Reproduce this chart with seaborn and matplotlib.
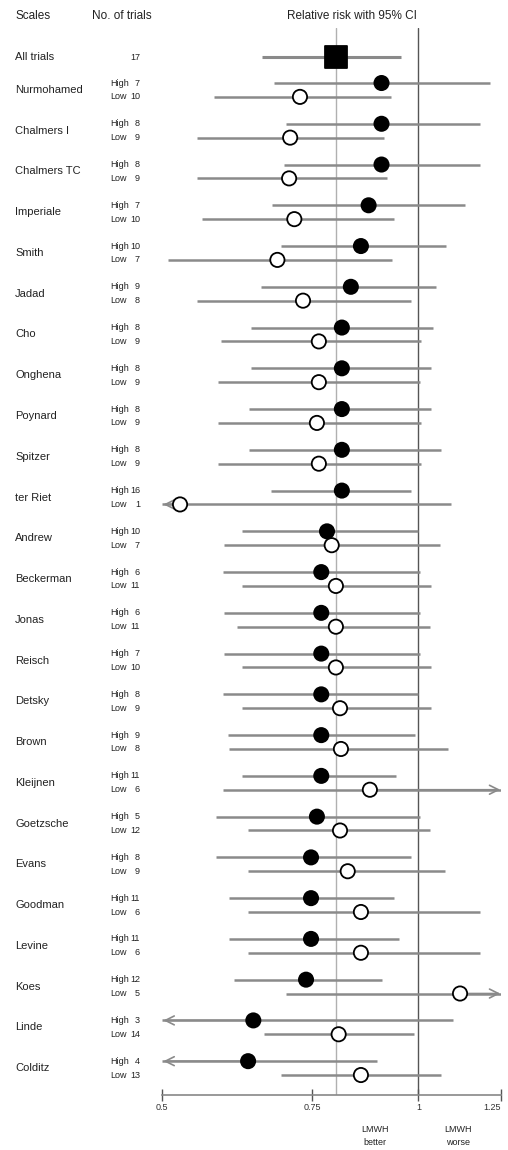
import numpy as np
import pandas as pd
import seaborn as sns
import matplotlib
matplotlib.use("Agg")
import matplotlib.pyplot as plt
from matplotlib.transforms import blended_transform_factory
from matplotlib.ticker import FixedLocator, FixedFormatter, NullLocator

# ---------------- data ----------------
scales = ["Nurmohamed", "Chalmers I", "Chalmers TC", "Imperiale", "Smith", "Jadad",
          "Cho", "Onghena", "Poynard", "Spitzer", "ter Riet", "Andrew", "Beckerman",
          "Jonas", "Reisch", "Detsky", "Brown", "Kleijnen", "Goetzsche", "Evans",
          "Goodman", "Levine", "Koes", "Linde", "Colditz"]
n_high = [7, 8, 8, 7, 10, 9, 8, 8, 8, 8, 16, 10, 6, 6, 7, 8, 9, 11, 5, 8, 11, 11, 12, 3, 4]
n_low = [10, 9, 9, 10, 7, 8, 9, 9, 9, 9, 1, 7, 11, 11, 10, 9, 8, 6, 12, 9, 6, 6, 5, 14, 13]

high_rr = [0.905, 0.905, 0.905, 0.874, 0.856, 0.833, 0.813, 0.813, 0.813, 0.813, 0.813,
           0.781, 0.769, 0.769, 0.769, 0.769, 0.769, 0.769, 0.760, 0.748, 0.748, 0.748,
           0.738, 0.640, 0.631]
high_lo = [0.677, 0.699, 0.696, 0.674, 0.690, 0.654, 0.636, 0.636, 0.633, 0.633, 0.672,
           0.621, 0.589, 0.592, 0.592, 0.589, 0.597, 0.621, 0.579, 0.579, 0.600, 0.600,
           0.608, 0.40, 0.40]
high_hi = [1.213, 1.181, 1.181, 1.135, 1.078, 1.050, 1.041, 1.035, 1.035, 1.064, 0.981,
           1.000, 1.005, 1.005, 1.005, 1.000, 0.992, 0.940, 1.005, 0.979, 0.935, 0.948,
           0.905, 1.099, 0.893]

low_rr = [0.726, 0.707, 0.705, 0.715, 0.683, 0.732, 0.764, 0.764, 0.760, 0.764, 0.525,
          0.791, 0.800, 0.800, 0.800, 0.809, 0.811, 0.877, 0.809, 0.826, 0.856, 0.856,
          1.119, 0.806, 0.856]
low_lo = [0.576, 0.549, 0.549, 0.557, 0.508, 0.549, 0.587, 0.581, 0.581, 0.581, 0.40,
          0.592, 0.620, 0.613, 0.621, 0.621, 0.600, 0.589, 0.630, 0.630, 0.630, 0.630,
          0.699, 0.659, 0.690]
low_hi = [0.928, 0.910, 0.918, 0.935, 0.930, 0.981, 1.008, 1.005, 1.008, 1.008, 1.093,
          1.061, 1.035, 1.033, 1.035, 1.035, 1.084, 1.40, 1.033, 1.075, 1.181, 1.181,
          1.40, 0.987, 1.064]

all_label = "All trials"
all_n = 17
all_rr = 0.80
all_lo = 0.656
all_hi = 0.953

tick_vals = [0.5, 0.75, 1, 1.25]
tick_labels = ["0.5", "0.75", "1", "1.25"]

# ---------------- build table ----------------
rows = []
for i, s in enumerate(scales):
    rows.append(dict(scale=s, group="High", n=n_high[i], rr=high_rr[i], lo=high_lo[i],
                     hi=high_hi[i], y=i + 1 - 0.17))
    rows.append(dict(scale=s, group="Low", n=n_low[i], rr=low_rr[i], lo=low_lo[i],
                     hi=low_hi[i], y=i + 1 + 0.17))
df = pd.DataFrame(rows)
y_all = 0.2

# ---------------- figure ----------------
sns.set_theme(style="white")
plt.rcParams["font.family"] = ["Liberation Sans", "DejaVu Sans"]

W, H = 508, 1150
fig = plt.figure(figsize=(W / 100, H / 100), dpi=100)
ax = fig.add_axes([162 / W, 1 - 1095 / H, 339 / W, (1095 - 28) / H])

XMIN, XMAX = 0.5, 1.25
ci_col = "#8a8a8a"

ax.axvline(1, color="#555555", lw=1.0, zorder=0)
ax.axvline(all_rr, color="#b0b0b0", lw=1.0, zorder=0)

# CI lines
ax.hlines(df["y"], df["lo"].clip(XMIN, XMAX), df["hi"].clip(XMIN, XMAX),
          color=ci_col, lw=1.8, zorder=1)
ax.hlines([y_all], [all_lo], [all_hi], color=ci_col, lw=2.2, zorder=1)

# arrows for clipped intervals
for _, r in df.iterrows():
    if r["lo"] < XMIN:
        ax.annotate("", xy=(XMIN * 1.004, r["y"]), xytext=(r["rr"], r["y"]),
                    arrowprops=dict(arrowstyle="->", color=ci_col, lw=1.2,
                                    mutation_scale=16, shrinkA=0, shrinkB=0), zorder=1)
    if r["hi"] > XMAX:
        ax.annotate("", xy=(XMAX * 0.998, r["y"]), xytext=(r["rr"], r["y"]),
                    arrowprops=dict(arrowstyle="->", color=ci_col, lw=1.2,
                                    mutation_scale=16, shrinkA=0, shrinkB=0), zorder=1)

sns.scatterplot(data=df, x="rr", y="y", hue="group",
                palette={"High": "black", "Low": "white"},
                s=105, edgecolor="black", linewidth=1.3, legend=False, ax=ax, zorder=3)
sns.scatterplot(x=[all_rr], y=[y_all], marker="s", s=260, color="black",
                edgecolor="black", legend=False, ax=ax, zorder=3)

ax.set_xscale("log")
ax.set_xlim(XMIN, XMAX)
ax.set_ylim(25.66, -0.52)
ax.xaxis.set_major_locator(FixedLocator(tick_vals))
ax.xaxis.set_major_formatter(FixedFormatter(tick_labels))
ax.xaxis.set_minor_locator(NullLocator())
ax.set_yticks([])
ax.set_xlabel("")
ax.set_ylabel("")
for sp in ["top", "right", "left"]:
    ax.spines[sp].set_visible(False)
ax.spines["bottom"].set_color("#888888")
ax.spines["bottom"].set_linewidth(1.2)
ax.tick_params(axis="x", direction="inout", length=8, width=1, color="#555555",
               labelsize=6.5, pad=2, labelcolor="#333333", bottom=True)
fig.canvas.draw()
ax.get_xticklabels()[-1].set_horizontalalignment("right")
ax.get_xticklabels()[-1].set_x(XMAX)

# ---------------- texts ----------------
txt = "#222222"
trans = blended_transform_factory(fig.transFigure, ax.transData)
fig.text(15 / W, 1 - 16 / H, "Scales", ha="left", va="center", fontsize=8.5, color=txt)
fig.text(92 / W, 1 - 16 / H, "No. of trials", ha="left", va="center", fontsize=8.5, color=txt)
fig.text(352 / W, 1 - 16 / H, "Relative risk with 95% CI", ha="center", va="center",
         fontsize=8.5, color=txt)

ax.text(15 / W, y_all, all_label, transform=trans, ha="left", va="center", fontsize=8, color=txt)
ax.text(140 / W, y_all, str(all_n), transform=trans, ha="right", va="center", fontsize=6.5, color=txt)

for i, s in enumerate(scales):
    yc = i + 1
    ax.text(15 / W, yc, s, transform=trans, ha="left", va="center", fontsize=8, color=txt)
for _, r in df.iterrows():
    ax.text(110 / W, r["y"], r["group"], transform=trans, ha="left", va="center",
            fontsize=6.5, color=txt)
    ax.text(140 / W, r["y"], str(r["n"]), transform=trans, ha="right", va="center",
            fontsize=6.5, color=txt)

fig.text(375 / W, 1 - 1136 / H, "LMWH\nbetter", ha="center", va="center", fontsize=6.5,
         color=txt, linespacing=1.7)
fig.text(458 / W, 1 - 1136 / H, "LMWH\nworse", ha="center", va="center", fontsize=6.5,
         color=txt, linespacing=1.7)

fig.savefig("out.png", dpi=100)
